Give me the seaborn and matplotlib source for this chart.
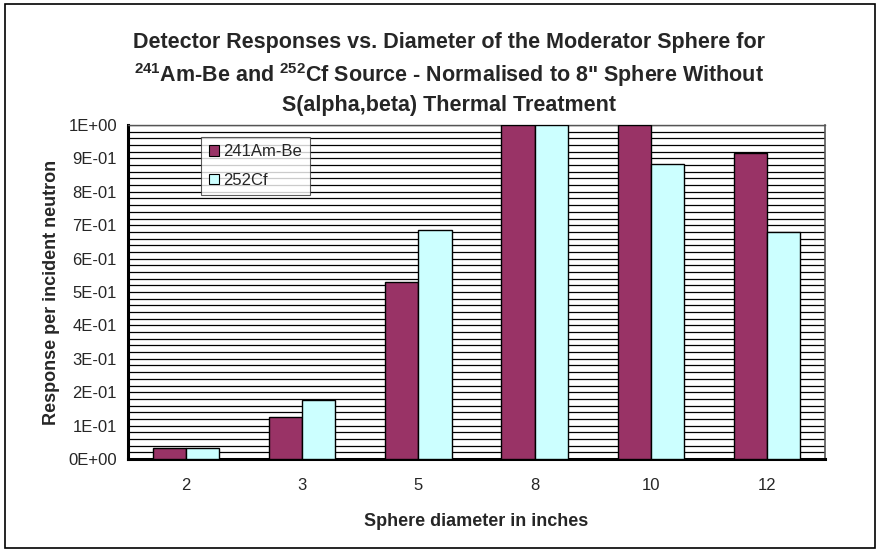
import matplotlib
matplotlib.use("Agg")
import matplotlib.pyplot as plt
import seaborn as sns
import pandas as pd
import numpy as np
from matplotlib.patches import Patch, Rectangle
from matplotlib.ticker import FixedLocator

diameters = ["2", "3", "5", "8", "10", "12"]
amb_values = [0.032, 0.125, 0.531, 1.0, 1.0, 0.916]
cf_values = [0.032, 0.176, 0.686, 1.0, 0.883, 0.680]
series_names = ["241Am-Be", "252Cf"]
ytick_labels = ["0E+00"] + [f"{i}E-01" for i in range(1, 10)] + ["1E+00"]

sns.set_theme(style="white")
plt.rcParams["font.family"] = ["Liberation Sans", "DejaVu Sans"]
plt.rcParams["mathtext.fontset"] = "custom"
plt.rcParams["mathtext.rm"] = "Liberation Sans:bold"
plt.rcParams["mathtext.bf"] = "Liberation Sans:bold"
plt.rcParams["mathtext.default"] = "bf"

df = pd.DataFrame({
    "diameter": diameters * 2,
    "value": amb_values + cf_values,
    "series": [series_names[0]] * len(diameters) + [series_names[1]] * len(diameters),
})

colors = {"241Am-Be": "#993366", "252Cf": "#CCFFFF"}

fig = plt.figure(figsize=(8.8, 5.52), dpi=100)
ax = fig.add_axes([128/880, 1-459/552, (825-128)/880, (459-125)/552])

sns.barplot(data=df, x="diameter", y="value", hue="series", order=diameters,
            hue_order=series_names, palette=colors, width=0.57, saturation=1,
            edgecolor="black", linewidth=1.0, ax=ax, legend=False, zorder=3)

ax.set_ylim(0, 1.0)
ax.set_xlim(-0.5, len(diameters) - 0.5)

# grid every 0.02
for yv in np.arange(0.02, 1.0001, 0.02):
    ax.axhline(yv, color="black", linewidth=0.9, zorder=1)

ax.yaxis.set_major_locator(FixedLocator(np.arange(0, 1.0001, 0.1)))
ax.set_yticklabels(ytick_labels)
ax.xaxis.set_minor_locator(FixedLocator(np.arange(-0.5, len(diameters), 1.0)))
ax.tick_params(axis="x", which="major", length=0, pad=14, labelsize=12)
ax.tick_params(axis="x", which="minor", length=5, width=2, direction="out", color="black")
ax.tick_params(axis="y", which="major", length=6, width=2, direction="out", color="black",
               labelsize=12, pad=2)

for side in ["left", "bottom"]:
    ax.spines[side].set_linewidth(2.2)
    ax.spines[side].set_color("black")
ax.spines["right"].set_color("#555555")
ax.spines["right"].set_linewidth(1.2)
ax.spines["top"].set_color("#555555")
ax.spines["top"].set_linewidth(1.0)

ax.set_xlabel("Sphere diameter in inches", fontsize=13, fontweight="bold", labelpad=14)
ax.set_ylabel("Response per incident neutron", fontsize=13, fontweight="bold", labelpad=6)

handles = [Patch(facecolor=colors[s], edgecolor="black", linewidth=0.8, label=s) for s in series_names]
leg = ax.legend(handles=handles, loc="upper left", bbox_to_anchor=((201-128)/697, (459-137)/334),
                fontsize=12, frameon=True, fancybox=False, edgecolor="#333333",
                handlelength=0.6, handleheight=0.6, handletextpad=0.3, labelspacing=0.8,
                borderpad=0.45, borderaxespad=0)
leg.get_frame().set_linewidth(0.8)
leg.set_zorder(5)

title_lines = [
    "Detector Responses vs. Diameter of the Moderator Sphere for",
    "$^{241}$Am-Be and $^{252}$Cf Source - Normalised to 8\" Sphere Without",
    "S(alpha,beta) Thermal Treatment",
]
baselines = [48, 82, 111]
for t, yy in zip(title_lines, baselines):
    fig.text(0.51, 1 - yy/552, t, ha="center", va="baseline", fontsize=15.5, fontweight="bold")

fig.patches.append(Rectangle((5/880, 4/552), 870/880, 544/552, transform=fig.transFigure,
                             fill=False, edgecolor="black", linewidth=1.2))

fig.savefig("out.png", dpi=100)
